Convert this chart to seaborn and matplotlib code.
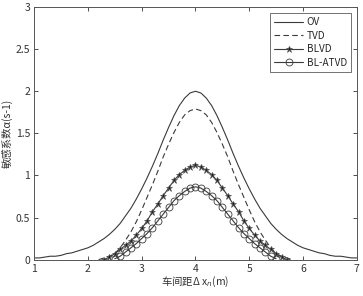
import numpy as np
import pandas as pd
import seaborn as sns
import matplotlib.pyplot as plt

# spacing (m) and sensitivity values
x_ov = np.round(np.arange(1.0, 7.01, 0.1), 1)
ov = [0.02, 0.02, 0.03, 0.04, 0.04, 0.05, 0.07, 0.08, 0.10, 0.12,
      0.14, 0.17, 0.21, 0.25, 0.30, 0.36, 0.43, 0.52, 0.61, 0.72,
      0.84, 0.97, 1.11, 1.26, 1.42, 1.57, 1.71, 1.83, 1.92, 1.98,
      2.00,
      1.98, 1.92, 1.83, 1.71, 1.57, 1.42, 1.26, 1.11, 0.97, 0.84,
      0.72, 0.61, 0.52, 0.43, 0.36, 0.30, 0.25, 0.21, 0.17, 0.14,
      0.12, 0.10, 0.08, 0.07, 0.05, 0.04, 0.04, 0.03, 0.02, 0.02]

x_tvd = np.round(np.arange(2.2, 5.81, 0.1), 1)
tvd = [0.00, 0.02, 0.04, 0.07, 0.14, 0.23, 0.33, 0.45, 0.59, 0.74,
       0.89, 1.05, 1.22, 1.37, 1.51, 1.63, 1.72, 1.77, 1.79,
       1.77, 1.72, 1.63, 1.51, 1.37, 1.22, 1.05, 0.89, 0.74, 0.59,
       0.45, 0.33, 0.23, 0.14, 0.07, 0.04, 0.02, 0.00]

x_blvd = np.round(np.arange(2.3, 5.71, 0.1), 1)
blvd = [0.00, 0.03, 0.07, 0.12, 0.17, 0.22, 0.29, 0.37, 0.46, 0.57,
        0.66, 0.76, 0.85, 0.94, 1.01, 1.06, 1.10, 1.12,
        1.10, 1.06, 1.01, 0.94, 0.85, 0.76, 0.66, 0.57, 0.46, 0.37,
        0.29, 0.22, 0.17, 0.12, 0.07, 0.03, 0.00]

x_atvd = np.round(np.arange(2.5, 5.51, 0.1), 1)
atvd = [0.01, 0.04, 0.09, 0.14, 0.19, 0.25, 0.31, 0.38, 0.46, 0.54,
        0.62, 0.70, 0.76, 0.81, 0.85, 0.865,
        0.85, 0.81, 0.76, 0.70, 0.62, 0.54, 0.46, 0.38, 0.31, 0.25,
        0.19, 0.14, 0.09, 0.04, 0.01]

sns.set_style("ticks")
plt.rcParams['font.family'] = ['Noto Sans CJK SC', 'DejaVu Sans']
plt.rcParams['axes.unicode_minus'] = False

fig = plt.figure(figsize=(3.63, 2.96), dpi=100)
ax = fig.add_axes([0.094, 0.123, 0.889, 0.853])

lc = '#3a3a3a'
sns.lineplot(x=x_ov, y=ov, ax=ax, color=lc, lw=0.8, label='OV')
sns.lineplot(x=x_tvd, y=tvd, ax=ax, color=lc, lw=0.8, label='TVD',
             dashes=False, linestyle=(0, (5, 3)))
sns.lineplot(x=x_blvd, y=blvd, ax=ax, color=lc, lw=0.8, label='BLVD',
             marker='*', markersize=5, markeredgewidth=0.5,
             markerfacecolor='#222222', markeredgecolor='#555555')
sns.lineplot(x=x_atvd, y=atvd, ax=ax, color=lc, lw=0.8, label='BL-ATVD',
             marker='o', markersize=5, markeredgewidth=0.6,
             markerfacecolor='none', markeredgecolor=lc)

ax.set_xlim(1, 7)
ax.set_ylim(0, 3)
ax.set_xticks(range(1, 8))
ax.set_yticks([0, 0.5, 1, 1.5, 2, 2.5, 3])
ax.set_yticklabels(['0', '0.5', '1', '1.5', '2', '2.5', '3'])
ax.tick_params(direction='in', length=3, width=0.6, labelsize=7.5,
               colors='#333333', top=True, right=True, pad=3)
for s in ax.spines.values():
    s.set_color('#555555')
    s.set_linewidth(0.7)

ax.set_xlabel('车间距Δ x$_n$(m)', fontsize=7.5, color='#333333', labelpad=1)
ax.set_ylabel('敏感系数α(s-1)', fontsize=7.5, color='#333333', labelpad=2)

leg = ax.legend(loc='upper right', fontsize=7.2, frameon=True, fancybox=False,
                borderpad=0.45, labelspacing=0.35, handlelength=2.9,
                handletextpad=0.35, borderaxespad=0.55)
leg.get_frame().set_edgecolor('#333333')
leg.get_frame().set_linewidth(0.6)

plt.savefig('out.png', dpi=100)
